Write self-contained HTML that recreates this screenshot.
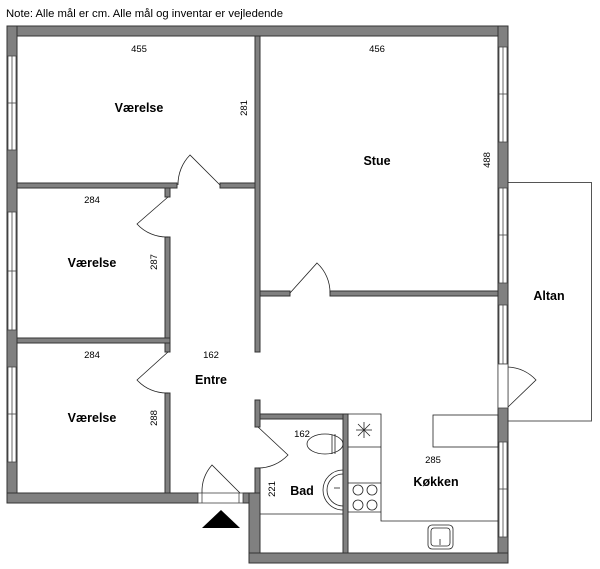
<!DOCTYPE html>
<html><head><meta charset="utf-8"><style>
html,body{margin:0;padding:0;background:#fff;}
svg{display:block;}
text{font-family:"Liberation Sans",sans-serif;fill:#000;}
.b{font-weight:bold;font-size:12.5px;}
.n{font-size:9.5px;}
</style></head><body>
<svg width="600" height="569" viewBox="0 0 600 569" xmlns="http://www.w3.org/2000/svg">
<text x="6" y="17" font-size="11" textLength="277" lengthAdjust="spacingAndGlyphs">Note: Alle mål er cm. Alle mål og inventar er vejledende</text>

<!-- Altan -->
<rect x="508" y="182.5" width="83.5" height="238.5" fill="none" stroke="#555" stroke-width="1"/>

<g fill="#808080" stroke="#333" stroke-width="1">
<!-- outer top -->
<rect x="7" y="26" width="501" height="10"/>
<!-- left wall -->
<rect x="7" y="26" width="10" height="477"/>
<!-- right wall -->
<rect x="498" y="26" width="10" height="537"/>
<!-- bottom left -->
<rect x="7" y="493" width="191" height="10"/>
<!-- entrance right / bad left -->
<rect x="243" y="493" width="17" height="10"/>
<rect x="249" y="493" width="11" height="70"/>
<rect x="249" y="553" width="259" height="10"/>
<!-- interior walls -->
<rect x="17" y="183" width="160" height="5"/>
<rect x="220" y="183" width="35" height="5"/>
<rect x="255" y="36" width="5" height="316"/>
<rect x="165" y="188" width="5" height="9"/>
<rect x="165" y="237" width="5" height="106"/>
<rect x="17" y="338" width="153" height="5"/>
<rect x="165" y="343" width="5" height="9"/>
<rect x="165" y="393" width="5" height="100"/>
<rect x="260" y="291" width="30" height="5"/>
<rect x="330" y="291" width="168" height="5"/>
<rect x="255" y="400" width="5" height="27"/>
<rect x="260" y="414" width="88" height="5"/>
<rect x="343" y="414" width="5" height="139"/>
<rect x="255" y="468" width="5" height="25"/>
</g>

<!-- windows -->
<g fill="#fff" stroke="#444" stroke-width="0.8">
<rect x="8" y="56" width="8" height="94"/><line x1="12" y1="56" x2="12" y2="150"/><line x1="8" y1="103" x2="16" y2="103"/>
<rect x="8" y="212" width="8" height="118"/><line x1="12" y1="212" x2="12" y2="330"/><line x1="8" y1="271" x2="16" y2="271"/>
<rect x="8" y="367" width="8" height="95"/><line x1="12" y1="367" x2="12" y2="462"/><line x1="8" y1="414" x2="16" y2="414"/>
<rect x="499" y="47" width="8" height="95"/><line x1="503" y1="47" x2="503" y2="142"/><line x1="499" y1="94" x2="507" y2="94"/>
<rect x="499" y="188" width="8" height="95"/><line x1="503" y1="188" x2="503" y2="283"/><line x1="499" y1="235" x2="507" y2="235"/>
<rect x="499" y="305" width="8" height="59"/><line x1="503" y1="305" x2="503" y2="364"/>
<rect x="499" y="442" width="8" height="95"/><line x1="503" y1="442" x2="503" y2="537"/><line x1="499" y1="489" x2="507" y2="489"/>
<!-- door openings in walls -->
<rect x="498" y="364" width="10" height="44"/>
<rect x="198" y="493" width="45" height="10"/>
<line x1="202" y1="493" x2="202" y2="503"/><line x1="239" y1="493" x2="239" y2="503"/>
</g>

<!-- doors -->
<g fill="none" stroke="#222" stroke-width="0.8">
<path d="M220 185 L190 155 A42 42 0 0 0 178 185"/>
<path d="M168 197 L137 224 A40 40 0 0 0 168 237"/>
<path d="M168 352 L137 380 A40 40 0 0 0 168 393"/>
<path d="M290 293 L317 263 A40 40 0 0 1 330 293"/>
<path d="M258 427 L288 455 A41 41 0 0 1 258 468"/>
<path d="M240 493 L212 465 A40 40 0 0 0 202 493"/>
<path d="M508 407 L536 380 A40 40 0 0 0 508 367"/>
</g>

<!-- entrance triangle -->
<polygon points="202,528 240,528 221,510" fill="#000"/>

<!-- bad -->
<g fill="none" stroke="#222" stroke-width="0.8">
<line x1="260" y1="514" x2="343" y2="514"/>
<ellipse cx="325" cy="444" rx="18" ry="10"/>
<line x1="332" y1="435" x2="332" y2="454"/>
<line x1="335" y1="434" x2="335" y2="454"/>
<path d="M343 470 A20 20 0 0 0 343 510"/>
<path d="M343 474 A16 16 0 0 0 343 506"/>
<line x1="334" y1="488" x2="340" y2="488"/>
<!-- kitchen -->
<path d="M348 414 H381 V521 H498"/>
<line x1="348" y1="447" x2="381" y2="447"/>
<line x1="348" y1="483" x2="381" y2="483"/>
<line x1="348" y1="512" x2="381" y2="512"/>
<rect x="433" y="415" width="65" height="32"/>
<circle cx="358" cy="490" r="5"/><circle cx="372" cy="490" r="5"/>
<circle cx="358" cy="505" r="5"/><circle cx="372" cy="505" r="5"/>
<rect x="428" y="525" width="25" height="24" rx="4"/>
<rect x="431" y="528" width="19" height="18" rx="3"/>
<line x1="440" y1="539" x2="440" y2="545"/>
<line x1="356" y1="430" x2="372" y2="430"/><line x1="364" y1="422" x2="364" y2="438"/>
<line x1="358" y1="424" x2="370" y2="436"/><line x1="370" y1="424" x2="358" y2="436"/>
</g>

<!-- labels -->
<g text-anchor="middle">
<text class="n" x="139" y="52">455</text>
<text class="b" x="139" y="112">Værelse</text>
<text class="n" x="377" y="52">456</text>
<text class="b" x="377" y="165">Stue</text>
<text class="n" x="92" y="203">284</text>
<text class="b" x="92" y="267">Værelse</text>
<text class="n" x="92" y="358">284</text>
<text class="b" x="92" y="422">Værelse</text>
<text class="n" x="211" y="358">162</text>
<text class="b" x="211" y="384">Entre</text>
<text class="n" x="302" y="437">162</text>
<text class="b" x="302" y="495">Bad</text>
<text class="n" x="433" y="463">285</text>
<text class="b" x="436" y="486">Køkken</text>
<text class="b" x="549" y="300">Altan</text>
<text class="n" transform="translate(247,108) rotate(-90)">281</text>
<text class="n" transform="translate(490,160) rotate(-90)">488</text>
<text class="n" transform="translate(157,262) rotate(-90)">287</text>
<text class="n" transform="translate(157,418) rotate(-90)">288</text>
<text class="n" transform="translate(275,489) rotate(-90)">221</text>
</g>
</svg>
</body></html>
